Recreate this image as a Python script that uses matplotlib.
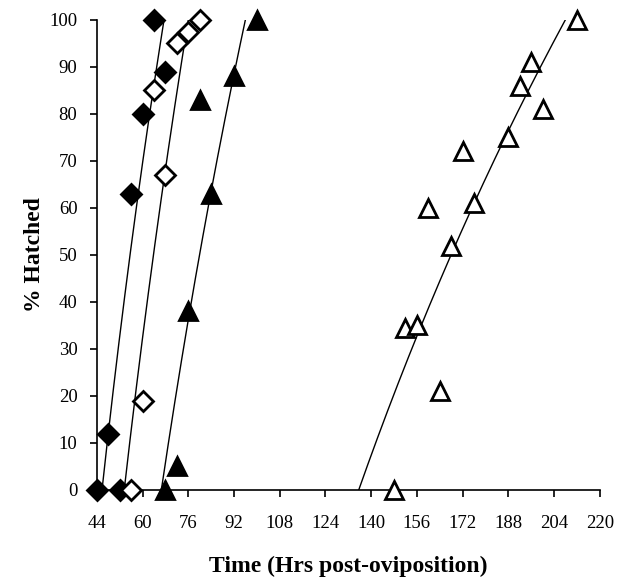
import numpy as np
import matplotlib
matplotlib.use("Agg")
import matplotlib.pyplot as plt

# hours post-oviposition and % hatched, one pair of lists per group
filled_diamond_x = [44, 48, 52, 56, 60, 64, 68]
filled_diamond_y = [0, 12, 0, 63, 80, 100, 89]

open_diamond_x = [56, 60, 64, 68, 72, 76, 80]
open_diamond_y = [0, 19, 85, 67, 95, 97.5, 100]

filled_triangle_x = [68, 72, 76, 80, 84, 92, 100]
filled_triangle_y = [0, 5, 38, 83, 63, 88, 100]

open_triangle_x = [148, 152, 156, 160, 164, 168, 172, 176, 188, 192, 196, 200, 212]
open_triangle_y = [0, 34.5, 35, 60, 21, 52, 72, 61, 75, 86, 91, 81, 100]

x_ticks = [44, 60, 76, 92, 108, 124, 140, 156, 172, 188, 204, 220]
y_ticks = [0, 10, 20, 30, 40, 50, 60, 70, 80, 90, 100]

plt.rcParams['font.family'] = ['Liberation Serif', 'DejaVu Serif']

fig = plt.figure(figsize=(6.17, 5.84), dpi=100)
ax = fig.add_axes([0.157, 0.161, 0.815, 0.805])


def log_trend(xs, ys):
    # Excel-style logarithmic trendline: y = a*ln(x) + b
    a, b = np.polyfit(np.log(xs), ys, 1)
    lo = np.exp((0 - b) / a)
    hi = np.exp((100 - b) / a)
    xx = np.linspace(lo, hi, 200)
    ax.plot(xx, a * np.log(xx) + b, color='black', lw=1.0, zorder=2)


groups = [
    (filled_diamond_x, filled_diamond_y, 'D', 'black', 10.5),
    (open_diamond_x, open_diamond_y, 'D', 'white', 10.5),
    (filled_triangle_x, filled_triangle_y, '^', 'black', 12.5),
    (open_triangle_x, open_triangle_y, '^', 'white', 12.5),
]

for xs, ys, marker, face, size in groups:
    log_trend(xs, ys)
    ax.plot(xs, ys, linestyle='none', marker=marker, markersize=size,
            markerfacecolor=face, markeredgecolor='black', markeredgewidth=2,
            zorder=3, clip_on=False)

ax.set_xlim(44, 220)
ax.set_ylim(0, 100)
ax.set_xticks(x_ticks)
ax.set_yticks(y_ticks)

for side in ['top', 'right']:
    ax.spines[side].set_visible(False)
for side in ['left', 'bottom']:
    ax.spines[side].set_linewidth(1.2)

ax.tick_params(axis='both', direction='out', length=5, width=1.2, labelsize=13.5)
ax.tick_params(axis='x', pad=13)
ax.tick_params(axis='y', pad=9)

ax.set_xlabel('Time (Hrs post-oviposition)', fontsize=17, fontweight='bold', labelpad=17)
ax.set_ylabel('% Hatched', fontsize=17, fontweight='bold', labelpad=3)

fig.savefig('out.png', dpi=100)
